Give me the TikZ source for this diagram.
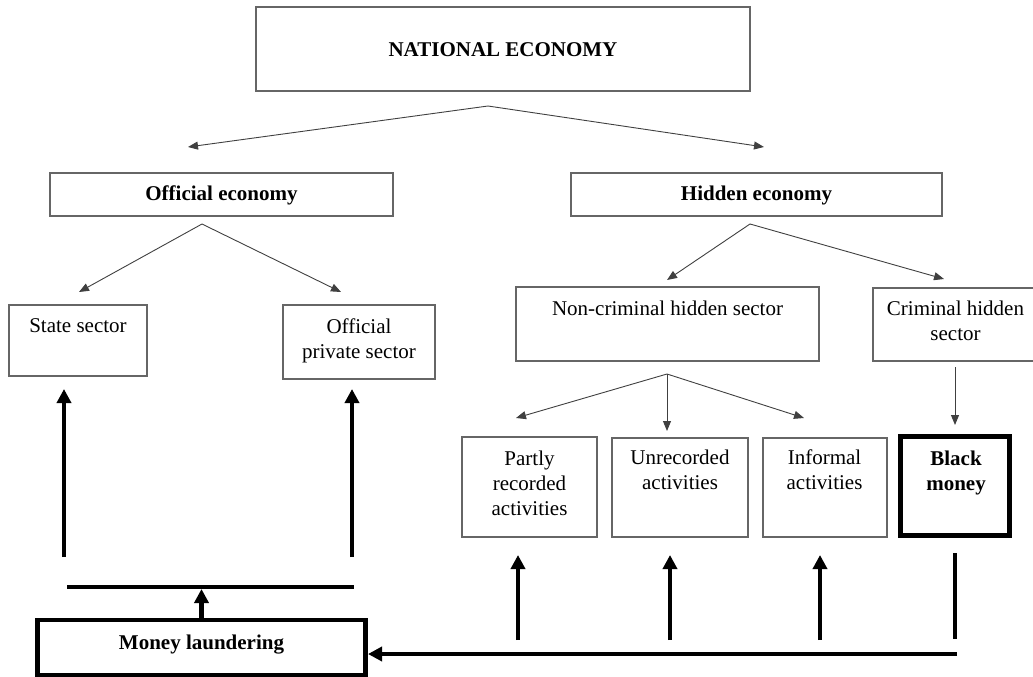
\documentclass[tikz,border=0pt]{standalone}
\usepackage{fontspec}
\setmainfont{Liberation Serif}
\usetikzlibrary{arrows.meta}
\begin{document}
\begin{tikzpicture}[x=1pt,y=-1pt,
  box/.style={draw=black!60, line width=1.2pt, inner sep=0pt, outer sep=0pt},
  bbox/.style={draw=black, line width=4.5pt, inner sep=0pt, outer sep=0pt},
  txt/.style={font=\fontsize{21}{25}\selectfont, align=center, inner sep=0pt, anchor=base},
  btxt/.style={txt, font=\fontsize{21}{25}\selectfont\bfseries},
  thinarrow/.style={draw=black!75, line width=0.9pt, -{Triangle[length=10pt,width=8pt]}},
  thickarrow/.style={draw=black, line width=4.5pt, -{Triangle[length=14pt,width=14pt]}},
  bar/.style={draw=black, line width=4.5pt},
]
\useasboundingbox (0,0) rectangle (1033,677);

% boxes
\node[box, minimum width=494, minimum height=84] (national) at (503,49) {};
\node[box, minimum width=343, minimum height=43] (official) at (221.5,194.5) {};
\node[box, minimum width=371, minimum height=43] (hidden) at (756.5,194.5) {};
\node[box, minimum width=138, minimum height=71] (state) at (78,340.5) {};
\node[box, minimum width=152, minimum height=74] (offpriv) at (359,342) {};
\node[box, minimum width=303, minimum height=74] (noncrim) at (667.5,324) {};
\node[box, minimum width=165, minimum height=73] (crim) at (955.5,324.5) {};
\node[box, minimum width=135, minimum height=100] (partly) at (529.5,487) {};
\node[box, minimum width=136, minimum height=99] (unrec) at (680,487.5) {};
\node[box, minimum width=124, minimum height=99] (informal) at (825,487.5) {};
\node[bbox, minimum width=109, minimum height=99] (black) at (955,486) {};
\node[bbox, minimum width=328, minimum height=55] (money) at (201.5,647.5) {};

% texts (base anchor = baseline of last line)
\node[btxt] (nationalt) at (503,57) {NATIONAL ECONOMY};
\node[btxt] (officialt) at (221.5,200) {Official economy};
\node[btxt] (hiddent) at (756.5,200) {Hidden economy};
\node[txt] (statet) at (78,332) {State sector};
\node[txt] (offprivt) at (359,358) {Official\\private sector};
\node[txt] (noncrimt) at (667.5,315) {Non-criminal hidden sector};
\node[txt] (crimt) at (955.5,340) {Criminal hidden\\sector};
\node[txt] (partlyt) at (529.5,515) {Partly\\recorded\\activities};
\node[txt] (unrect) at (680,489) {Unrecorded\\activities};
\node[txt] (informalt) at (824.5,489) {Informal\\activities};
\node[btxt] (blackt) at (956,490) {Black\\money};
\node[btxt] (moneyt) at (201.5,649) {Money laundering};

% split points and free ends
\coordinate (n0) at (488,106); \coordinate (n1) at (188,147); \coordinate (n2) at (764,147);
\coordinate (o0) at (202,224); \coordinate (o1) at (79,292); \coordinate (o2) at (341,292);
\coordinate (h0) at (750,224); \coordinate (h1) at (667,280); \coordinate (h2) at (944,279);
\coordinate (c0) at (667,374); \coordinate (c1) at (516,418); \coordinate (c2) at (667,431); \coordinate (c3) at (804,418);
\coordinate (k0) at (955,367); \coordinate (k1) at (955,425);

\draw[thinarrow] (n0) -- (n1);
\draw[thinarrow] (n0) -- (n2);
\draw[thinarrow] (o0) -- (o1);
\draw[thinarrow] (o0) -- (o2);
\draw[thinarrow] (h0) -- (h1);
\draw[thinarrow] (h0) -- (h2);
\draw[thinarrow] (c0) -- (c1);
\draw[thinarrow] (c0) -- (c2);
\draw[thinarrow] (c0) -- (c3);
\draw[thinarrow] (k0) -- (k1);

% thick arrows, left side
\coordinate (s0) at (64,557); \coordinate (s1) at (64,389);
\coordinate (p0) at (352,557); \coordinate (p1) at (352,389);
\coordinate (bl) at (67,587); \coordinate (br) at (354,587);
\coordinate (bm) at (201.5,589);
\draw[thickarrow] (s0) -- (s1);
\draw[thickarrow] (p0) -- (p1);
\draw[bar] (bl) -- (br);
\draw[thickarrow] (money.north) -- (bm);

% thick arrows, right side
\coordinate (a0) at (518,640); \coordinate (a1) at (518,555);
\coordinate (u0) at (670,640); \coordinate (u1) at (670,555);
\coordinate (i0) at (820,640); \coordinate (i1) at (820,555);
\coordinate (k2) at (955,553); \coordinate (k3) at (955,639);
\coordinate (r0) at (957,654); \coordinate (r1) at (368,654);
\draw[thickarrow] (a0) -- (a1);
\draw[thickarrow] (u0) -- (u1);
\draw[thickarrow] (i0) -- (i1);
\draw[bar] (k2) -- (k3);
\draw[thickarrow] (r0) -- (r1);
\end{tikzpicture}
\end{document}
